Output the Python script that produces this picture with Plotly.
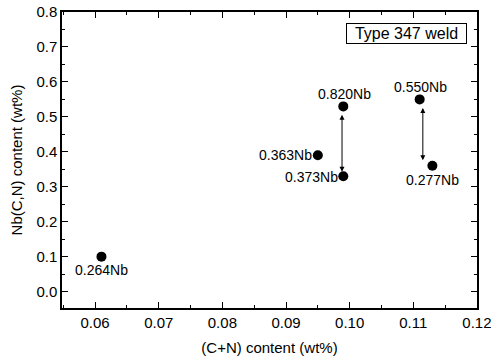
import plotly.graph_objects as go

# data
cn_content = [0.061, 0.095, 0.099, 0.099, 0.111, 0.113]
nbcn_content = [0.10, 0.39, 0.53, 0.33, 0.55, 0.36]
labels = ["0.264Nb", "0.363Nb", "0.820Nb", "0.373Nb", "0.550Nb", "0.277Nb"]
# label placement (anchor, xshift, yshift) in pixels
label_pos = [("center", 0, -13), ("right", -4, 0), ("center", 1, 12),
             ("right", -3, -1), ("center", 1, 12), ("center", 0, -14)]
arrow_x = [0.0988, 0.1115]
arrow_y_top = [0.51, 0.53]
arrow_y_bot = [0.343, 0.376]
legend_text = "Type 347 weld"

FONT = "Liberation Sans, Arial, sans-serif"

fig = go.Figure()
fig.add_trace(go.Scatter(x=cn_content, y=nbcn_content, mode="markers",
                         marker=dict(color="black", size=10), showlegend=False,
                         hoverinfo="skip"))

for x, y, t, (anc, xs, ys) in zip(cn_content, nbcn_content, labels, label_pos):
    fig.add_annotation(x=x, y=y, text=t, showarrow=False, xanchor=anc,
                       yanchor="middle", xshift=xs, yshift=ys,
                       font=dict(family=FONT, size=14, color="black"))

for x, y0, y1 in zip(arrow_x, arrow_y_top, arrow_y_bot):
    fig.add_annotation(x=x, y=y1, ax=x, ay=y0, xref="x", yref="y",
                       axref="x", ayref="y", text="", showarrow=True,
                       arrowhead=2, arrowside="end+start", arrowsize=1,
                       arrowwidth=1, arrowcolor="black")

fig.add_annotation(x=0.831, y=0.928, xref="paper", yref="paper", text=legend_text,
                   showarrow=False, xanchor="center", yanchor="middle",
                   font=dict(family=FONT, size=16, color="black"),
                   bordercolor="black", borderwidth=1, borderpad=1,
                   width=117, height=17, bgcolor="white")

axis_common = dict(showline=True, linecolor="black", linewidth=1.5, mirror="ticks",
                   ticks="inside", ticklen=6, tickwidth=1.2, tickcolor="black",
                   showgrid=False, zeroline=False, automargin=False,
                   ticklabeloverflow="allow",
                   tickfont=dict(family=FONT, size=15, color="black"))

fig.update_xaxes(range=[0.0548, 0.12001], dtick=0.01, tick0=0.06, tickformat=".2f",
                 minor=dict(dtick=0.005, ticks="inside", ticklen=3, tickcolor="black", tickwidth=1.2),
                 title=dict(text="(C+N) content (wt%)", font=dict(family=FONT, size=15, color="black"), standoff=13),
                 **axis_common)
fig.update_yaxes(range=[-0.047, 0.8001], dtick=0.1, tick0=0, tickformat=".1f",
                 minor=dict(dtick=0.05, ticks="inside", ticklen=3, tickcolor="black", tickwidth=1.2),
                 title=dict(text="Nb(C,N) content (wt%)", font=dict(family=FONT, size=15, color="black"), standoff=10),
                 **axis_common)

fig.update_layout(width=491, height=362, margin=dict(l=62, r=14, t=12, b=54),
                  plot_bgcolor="white", paper_bgcolor="white",
                  font=dict(family=FONT, color="black"))

fig.write_html("out.html", config={"displayModeBar": False},
               post_script="document.body.style.margin='0';document.body.style.overflow='hidden';")
